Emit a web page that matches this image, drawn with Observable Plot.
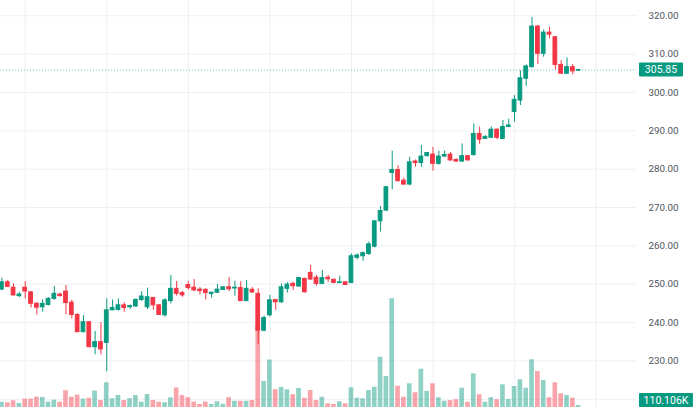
<!DOCTYPE html>
<html><head><meta charset="utf-8">
<script src="https://cdn.jsdelivr.net/npm/d3@7"></script>
<script src="https://cdn.jsdelivr.net/npm/@observablehq/plot@0.6"></script>
<style>
html,body{margin:0;padding:0;background:#fff;}
#chart{position:relative;width:696px;height:409px;overflow:hidden;}
#chart svg{position:absolute;left:0;top:0;}
</style></head><body><div id="chart"></div>
<script>
// bar index of the first visible candle (candles are numbered consecutively)
const firstBar = -4;
const open = [248.6,250.5,249.1,246.9,249.1,247.9,244.9,244.0,244.6,246.2,
  247.3,248.1,245.2,242.0,237.5,240.1,233.6,234.9,234.7,243.2,
  243.3,244.5,244.0,244.2,245.9,244.0,246.4,244.5,241.9,245.6,
  248.8,247.7,249.8,249.1,248.6,248.55,247.5,247.8,248.5,249.2,
  248.9,249.0,245.6,248.55,247.5,237.9,241.9,245.9,245.3,248.8,
  250.1,249.4,251.4,252.97,251.7,250.1,251.7,251.15,250.3,250.5,
  250.3,256.9,257.3,257.9,259.8,266.4,269.2,279.0,279.8,277.0,
  276.0,282.0,281.6,283.4,283.8,281.4,283.3,283.8,282.4,282.0,
  283.4,283.7,289.2,287.9,288.2,290.3,287.9,291.0,294.9,297.9,
  303.6,306.6,317.2,310.1,315.6,314.4,307.2,304.9,306.6,305.7];
const high = [251.6,251.0,250.1,247.9,250.7,248.1,245.2,246.0,246.5,249.4,
  247.7,249.7,245.8,242.3,241.8,240.3,237.7,240.0,246.2,245.9,
  246.2,245.2,244.6,246.2,248.1,249.0,246.6,244.6,246.2,252.3,
  250.7,248.1,250.7,251.2,249.1,248.8,247.9,249.9,249.2,251.7,
  250.8,250.7,251.0,249.1,248.8,241.7,247.1,246.0,250.1,250.4,
  250.5,251.8,251.6,254.9,252.3,253.6,252.3,251.4,252.1,250.7,
  257.9,257.9,258.4,261.0,266.6,270.3,275.5,284.7,280.9,277.7,
  283.1,282.4,286.2,284.3,285.7,284.7,284.7,284.4,282.7,286.6,
  283.6,291.8,291.0,288.8,291.0,290.5,292.7,293.0,299.2,305.7,
  307.2,319.6,317.5,316.3,317.0,314.6,308.3,309.0,307.3,306.0];
const low = [248.4,249.1,246.9,246.5,246.2,243.8,242.0,242.7,244.4,245.8,
  246.7,242.0,241.0,237.4,237.3,233.4,231.6,231.6,227.2,243.1,
  243.0,242.7,243.4,244.0,245.5,243.4,243.2,241.9,241.4,244.9,
  246.9,246.6,248.4,248.0,247.2,245.9,246.4,247.6,248.4,248.1,
  246.9,245.6,245.5,247.6,234.2,237.6,241.5,243.2,245.0,247.7,
  248.4,249.2,247.7,251.0,249.5,249.9,250.5,250.1,250.3,249.7,
  250.2,256.4,256.0,257.5,259.5,263.6,269.0,274.6,276.6,275.8,
  275.7,280.5,280.5,283.2,279.5,281.0,283.0,282.0,281.8,281.8,
  282.1,283.4,286.5,287.8,288.0,287.7,287.8,290.8,292.3,296.6,
  301.6,306.4,307.3,309.2,314.0,305.9,304.8,304.7,304.6,305.6];
const close = [250.5,249.3,247.1,247.3,248.1,244.9,243.9,244.9,246.2,247.5,
  246.9,245.1,242.0,237.5,240.1,233.6,234.9,233.0,243.2,243.8,
  244.5,243.8,244.3,245.9,246.8,246.6,244.5,242.0,245.8,248.8,
  247.5,247.1,249.0,248.4,248.2,247.7,247.8,248.6,249.2,248.7,
  249.1,245.6,248.8,247.85,237.9,241.2,245.8,245.3,249.2,249.9,
  249.5,251.6,247.9,251.24,250.1,251.6,251.3,250.35,250.5,249.8,
  257.3,257.5,258.1,260.4,266.4,269.1,275.3,279.8,276.9,276.0,
  281.8,281.6,283.3,284.2,281.4,283.3,283.7,282.3,282.0,283.4,
  282.3,289.2,287.7,288.4,290.3,288.2,291.0,291.4,298.1,303.7,
  306.8,317.2,310.1,315.6,315.1,307.2,304.9,306.6,305.5,305.85];
// volume in thousands
const volume = [290,260,370,220,460,460,570,550,290,400,
  290,920,570,680,460,510,900,385,1360,480,
  660,385,480,660,290,715,385,290,260,535,
  1070,660,540,300,165,300,165,315,175,535,
  345,345,345,385,4480,1430,2610,975,1100,975,
  705,1045,510,935,385,565,205,165,315,205,
  1085,510,480,935,1115,2765,1705,5980,1170,565,
  1305,810,2105,880,1305,535,345,385,425,1060,
  285,1855,705,290,535,430,1250,440,1155,1525,
  1060,2625,1980,1485,535,1360,755,660,510,110.106];
const priceTicks = [230,240,250,260,270,280,290,300,310,320];
const gridPrices = [220,230,240,250,260,270,280,290,300,310,320];
const gridBars = [0,14,28,42,56,70,84,98];

const bars = open.map((o, k) => ({
  i: k + firstBar, o, h: high[k], l: low[k], c: close[k], v: volume[k], up: close[k] >= o
}));
const last = bars[bars.length - 1];

const W = 696, H = 409, MR = 60;
const UP = "#089981", DOWN = "#F23645";
const FONT = "Roboto, 'Noto Sans', sans-serif";
const common = {
  width: W, height: H, marginLeft: 0, marginRight: MR, marginTop: 0, marginBottom: 0,
  x: {domain: [-4.24, 104.93], axis: null},
  color: {type: "identity"},
  style: {background: "transparent", fontFamily: FONT}
};
const priceDomain = [217.34, 323.99];

const gridPlot = Plot.plot({
  ...common,
  y: {domain: priceDomain, axis: null},
  marks: [
    Plot.ruleY(gridPrices, {stroke: "#eef0f4", strokeWidth: 1}),
    Plot.ruleX(gridBars, {stroke: "#eef0f4", strokeWidth: 1})
  ]
});

const volPlot = Plot.plot({
  ...common,
  marginBottom: 2,
  y: {domain: [0, 22385], axis: null},
  marks: [
    Plot.rectY(bars, {x1: d => d.i - 0.4, x2: d => d.i + 0.4, y: "v",
      fill: d => d.up ? UP : DOWN, fillOpacity: 0.45})
  ]
});

const pricePlot = Plot.plot({
  ...common,
  style: {background: "transparent", fontFamily: FONT, fontSize: "9.8px", color: "#50535e"},
  y: {domain: priceDomain, ticks: priceTicks, tickFormat: d3.format(".2f"),
      tickSize: 0, tickPadding: 12, label: null, axis: "right"},
  marks: [
    Plot.ruleY([last.c], {stroke: UP, strokeOpacity: 0.6, strokeDasharray: "1,2"}),
    Plot.ruleX(bars, {x: "i", y1: "l", y2: "h", stroke: d => d.up ? UP : DOWN, strokeWidth: 1}),
    Plot.rect(bars, {x1: d => d.i - 0.32, x2: d => d.i + 0.32, y1: "o", y2: "c",
      fill: d => d.up ? UP : DOWN, stroke: d => d.up ? UP : DOWN, strokeWidth: 1})
  ]
});

// last-value labels on the right scale
function addLabel(svg, cy, text, w, h) {
  const g = d3.select(svg).append("g");
  g.append("rect").attr("x", W - MR + 3).attr("y", cy - h / 2).attr("width", w).attr("height", h)
    .attr("rx", 1).attr("fill", UP);
  g.append("text").attr("x", W - MR + 3 + w / 2).attr("y", cy).attr("dy", "0.35em")
    .attr("text-anchor", "middle").attr("fill", "#fff").attr("font-size", "10.5px")
    .attr("font-family", FONT).text(text);
}
const yPrice = pricePlot.scale("y");
addLabel(pricePlot, yPrice.apply(last.c), d3.format(".2f")(last.c), 44, 14);
const yVol = volPlot.scale("y");
const vy = Math.min(yVol.apply(last.v), H - 2 - 7);
addLabel(pricePlot, vy, d3.format(".3f")(last.v) + "K", 54, 14);

const host = document.getElementById("chart");
host.append(gridPlot, volPlot, pricePlot);
</script></body></html>
